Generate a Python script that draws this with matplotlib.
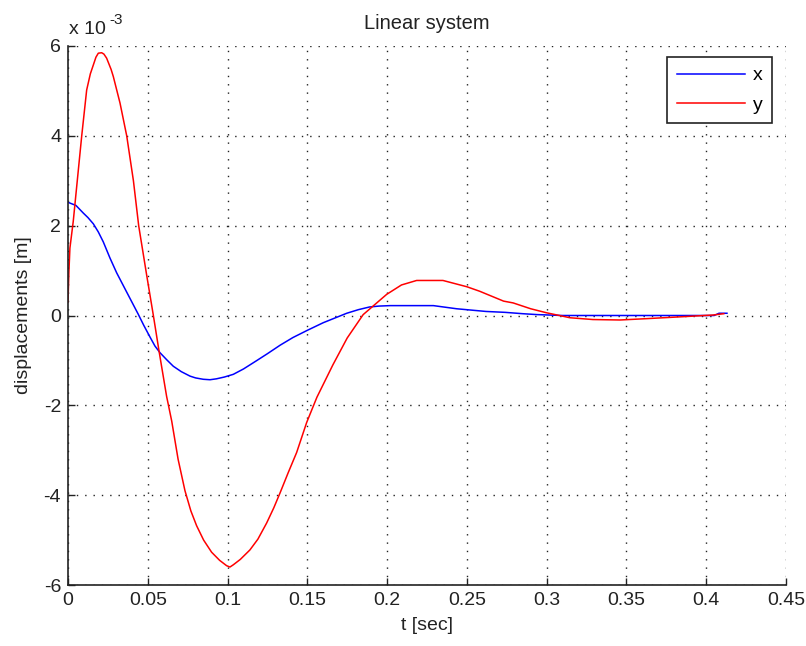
import matplotlib
matplotlib.use("Agg")
import matplotlib.pyplot as plt

plt.rcParams['font.family'] = ['Liberation Sans', 'DejaVu Sans']

# Displacement responses of the linear system (values in units of 1e-3 m)
t_x = [0, 0.005, 0.0096, 0.0125, 0.0159, 0.019, 0.0221, 0.0263, 0.0305, 0.0368,
       0.044, 0.0475, 0.0514, 0.0545, 0.0577, 0.062, 0.066, 0.071, 0.0765, 0.08,
       0.0848, 0.089, 0.093, 0.098, 0.1036, 0.11, 0.118, 0.125, 0.133, 0.141,
       0.15, 0.16, 0.167, 0.1747, 0.182, 0.189, 0.195, 0.202, 0.229, 0.2436,
       0.262, 0.274, 0.285, 0.294, 0.31, 0.35, 0.405, 0.408, 0.413]
x_disp = [2.52, 2.45, 2.28, 2.18, 2.04, 1.86, 1.64, 1.28, 0.95, 0.52,
          0.03, -0.22, -0.48, -0.68, -0.83, -0.99, -1.13, -1.25, -1.35, -1.39,
          -1.42, -1.43, -1.41, -1.37, -1.31, -1.19, -1.01, -0.85, -0.66, -0.49,
          -0.33, -0.16, -0.06, 0.05, 0.13, 0.19, 0.21, 0.22, 0.22, 0.15,
          0.09, 0.07, 0.04, 0.02, 0.0, 0.0, 0.0, 0.05, 0.05]

t_y = [0, 0.0006, 0.0012, 0.0033, 0.0086, 0.0117, 0.014, 0.0159, 0.0175, 0.019,
       0.0211, 0.0225, 0.0242, 0.027, 0.0284, 0.0326, 0.0368, 0.041, 0.0443, 0.0493,
       0.0535, 0.057, 0.0618, 0.065, 0.069, 0.0733, 0.077, 0.0806, 0.085, 0.09,
       0.095, 0.0994, 0.1015, 0.1036, 0.108, 0.114, 0.119, 0.1245, 0.129, 0.1329,
       0.138, 0.1433, 0.1496, 0.156, 0.166, 0.175, 0.185, 0.1997, 0.209, 0.2185,
       0.235, 0.25, 0.258, 0.273, 0.279, 0.29, 0.30, 0.3146, 0.329, 0.346,
       0.3627, 0.3836, 0.404, 0.411]
y_disp = [0.3, 1.0, 1.5, 2.1, 4.0, 5.02, 5.38, 5.58, 5.75, 5.84,
          5.85, 5.82, 5.73, 5.48, 5.32, 4.73, 4.0, 3.0, 2.0, 0.9,
          0.0, -0.78, -1.8, -2.35, -3.2, -3.9, -4.35, -4.68, -5.0, -5.27,
          -5.45, -5.57, -5.6, -5.55, -5.43, -5.22, -4.98, -4.62, -4.28, -3.95,
          -3.5, -3.05, -2.38, -1.82, -1.1, -0.5, 0.02, 0.47, 0.68, 0.78,
          0.78, 0.64, 0.54, 0.32, 0.28, 0.15, 0.06, -0.05, -0.09, -0.10,
          -0.07, -0.03, 0.01, 0.04]

x_ticks = [0, 0.05, 0.1, 0.15, 0.2, 0.25, 0.3, 0.35, 0.4, 0.45]
x_tick_labels = ['0', '0.05', '0.1', '0.15', '0.2', '0.25', '0.3', '0.35', '0.4', '0.45']
y_ticks = [-6, -4, -2, 0, 2, 4, 6]
y_tick_labels = ['-6', '-4', '-2', '0', '2', '4', '6']

ink = '#222222'

fig = plt.figure(figsize=(8.06, 6.46), dpi=100)
ax = fig.add_axes([68 / 806, 1 - 585 / 646, 718 / 806, 539 / 646])

ax.plot(t_x, x_disp, color='#0000ff', lw=1.1, label='x')
ax.plot(t_y, y_disp, color='#ff0000', lw=1.1, label='y')

ax.set_xlim(0, 0.45)
ax.set_ylim(-6, 6)
ax.set_xticks(x_ticks)
ax.set_xticklabels(x_tick_labels)
ax.set_yticks(y_ticks)
ax.set_yticklabels(y_tick_labels)

ax.grid(True, color=ink, linestyle=(0, (1, 5)), linewidth=1.0)
ax.set_axisbelow(True)
for side in ('top', 'right'):
    ax.spines[side].set_visible(False)
for side in ('left', 'bottom'):
    ax.spines[side].set_linewidth(1.2)
    ax.spines[side].set_color(ink)
ax.tick_params(direction='in', length=5, width=1.0, labelsize=14, pad=5,
               colors=ink)

ax.set_title('Linear system', fontsize=14.5, pad=12, color=ink)
ax.set_xlabel('t [sec]', fontsize=14, labelpad=6, color=ink)
ax.set_ylabel('displacements [m]', fontsize=14, labelpad=8, color=ink)

# Exponent label for the y axis scale
ax.annotate('x 10', xy=(0, 1), xycoords='axes fraction', xytext=(1, 6),
            textcoords='offset points', ha='left', va='bottom',
            fontsize=14, color=ink)
ax.annotate('-3', xy=(0, 1), xycoords='axes fraction', xytext=(29.5, 14),
            textcoords='offset points', ha='left', va='bottom',
            fontsize=11, color=ink)

leg = ax.legend(loc='upper right', bbox_to_anchor=(0.9805, 0.9796),
                borderaxespad=0, fancybox=False, framealpha=1,
                edgecolor=ink, fontsize=14, handlelength=3.5,
                handletextpad=0.4, borderpad=0.5, labelspacing=0.6)
leg.get_frame().set_linewidth(1.2)

fig.savefig('out.png', dpi=100)
